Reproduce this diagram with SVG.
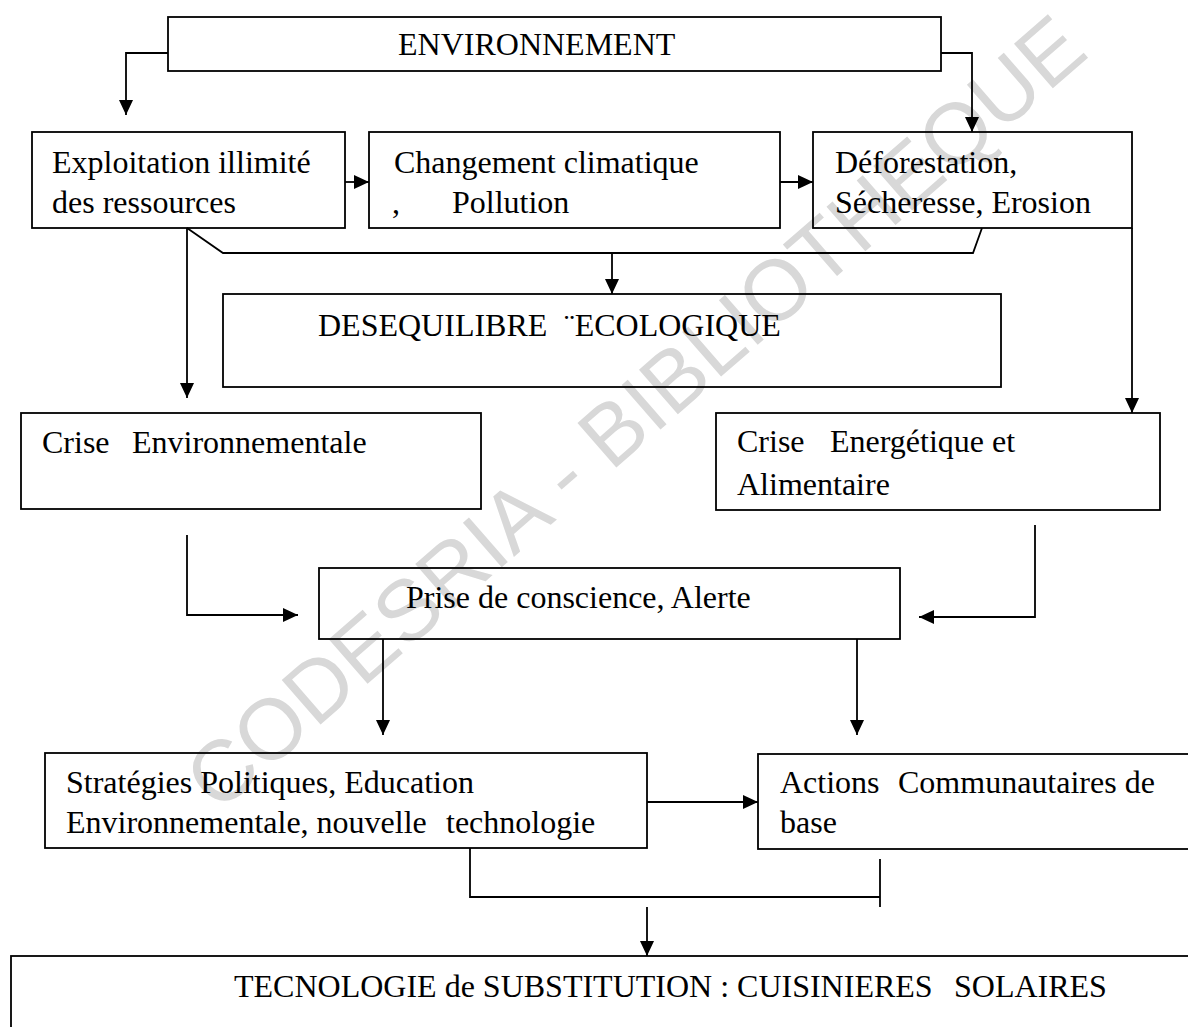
<svg xmlns="http://www.w3.org/2000/svg" width="1188" height="1027" viewBox="0 0 1188 1027">
<defs>
<marker id="arr" markerUnits="userSpaceOnUse" markerWidth="15" markerHeight="14" refX="15" refY="7" orient="auto">
<path d="M0,0 L15,7 L0,14 Z" fill="#000"/>
</marker>
<style>
.box{fill:none;stroke:#000;stroke-width:1.8}
.t{font-family:"Liberation Serif","Times New Roman",serif;font-size:32px;fill:#000}
.c{fill:none;stroke:#000;stroke-width:1.8}
.a{marker-end:url(#arr)}
.wm{font-family:"Liberation Sans",Arial,sans-serif;font-size:86px;fill:#d8d8d8}
</style>
</defs>
<rect width="1188" height="1027" fill="#fff"/>
<text class="wm" x="218" y="814" transform="rotate(-41 218 814)">CODESRIA - BIBLIOTHEQUE</text>

<g id="n-environnement">
<rect class="box" x="168" y="17" width="773" height="54"/>
<text class="t" x="398" y="55">ENVIRONNEMENT</text>
</g>
<g id="n-exploitation">
<rect class="box" x="32" y="132" width="313" height="96"/>
<text class="t" x="52" y="173">Exploitation illimité</text>
<text class="t" x="52" y="213">des ressources</text>
</g>
<g id="n-changement">
<rect class="box" x="369" y="132" width="411" height="96"/>
<text class="t" x="394" y="173">Changement climatique</text>
<text class="t" y="213"><tspan x="392">,</tspan><tspan x="452">Pollution</tspan></text>
</g>
<g id="n-deforestation">
<rect class="box" x="813" y="132" width="319" height="96"/>
<text class="t" x="835" y="173">Déforestation,</text>
<text class="t" x="835" y="213">Sécheresse, Erosion</text>
</g>
<g id="n-desequilibre">
<rect class="box" x="223" y="294" width="778" height="93"/>
<text class="t" y="336"><tspan x="318">DESEQUILIBRE</tspan><tspan x="564">¨ECOLOGIQUE</tspan></text>
</g>
<g id="n-crise-env">
<rect class="box" x="21" y="413" width="460" height="96"/>
<text class="t" y="453"><tspan x="42">Crise</tspan><tspan x="132">Environnementale</tspan></text>
</g>
<g id="n-crise-energ">
<rect class="box" x="716" y="413" width="444" height="97"/>
<text class="t" y="452"><tspan x="737">Crise</tspan><tspan x="830">Energétique et</tspan></text>
<text class="t" x="737" y="495">Alimentaire</text>
</g>
<g id="n-prise">
<rect class="box" x="319" y="568" width="581" height="71"/>
<text class="t" x="406" y="608">Prise de conscience, Alerte</text>
</g>
<g id="n-strategies">
<rect class="box" x="45" y="753" width="602" height="95"/>
<text class="t" x="66" y="793">Stratégies Politiques, Education</text>
<text class="t" y="833"><tspan x="66">Environnementale, nouvelle</tspan><tspan x="446">technologie</tspan></text>
</g>
<g id="n-actions">
<rect class="box" x="758" y="754" width="440" height="95"/>
<text class="t" y="793"><tspan x="780">Actions</tspan><tspan x="898">Communautaires de</tspan></text>
<text class="t" x="780" y="833">base</text>
</g>
<g id="n-tecnologie">
<rect class="box" x="11" y="956" width="1190" height="100"/>
<text class="t" y="997"><tspan x="234">TECNOLOGIE de SUBSTITUTION : CUISINIERES</tspan><tspan x="954">SOLAIRES</tspan></text>
</g>

<g id="connectors">
<path class="c a" d="M168,53 H126 V115"/>
<path class="c a" d="M941,53 H972 V132"/>
<path class="c a" d="M345,182 H369"/>
<path class="c a" d="M780,182 H813"/>
<path class="c" d="M187,228 L223,253 H973 L982,228"/>
<path class="c a" d="M612,253 V294"/>
<path class="c a" d="M187,228 V398"/>
<path class="c a" d="M1132,228 V413"/>
<path class="c a" d="M187,535 V615 H298"/>
<path class="c a" d="M1035,525 V617 H919"/>
<path class="c a" d="M383,639 V735"/>
<path class="c a" d="M857,639 V735"/>
<path class="c a" d="M647,802 H758"/>
<path class="c" d="M470,848 V897 H880"/>
<path class="c" d="M880,859 V907"/>
<path class="c a" d="M647,907 V956"/>
</g>
</svg>
